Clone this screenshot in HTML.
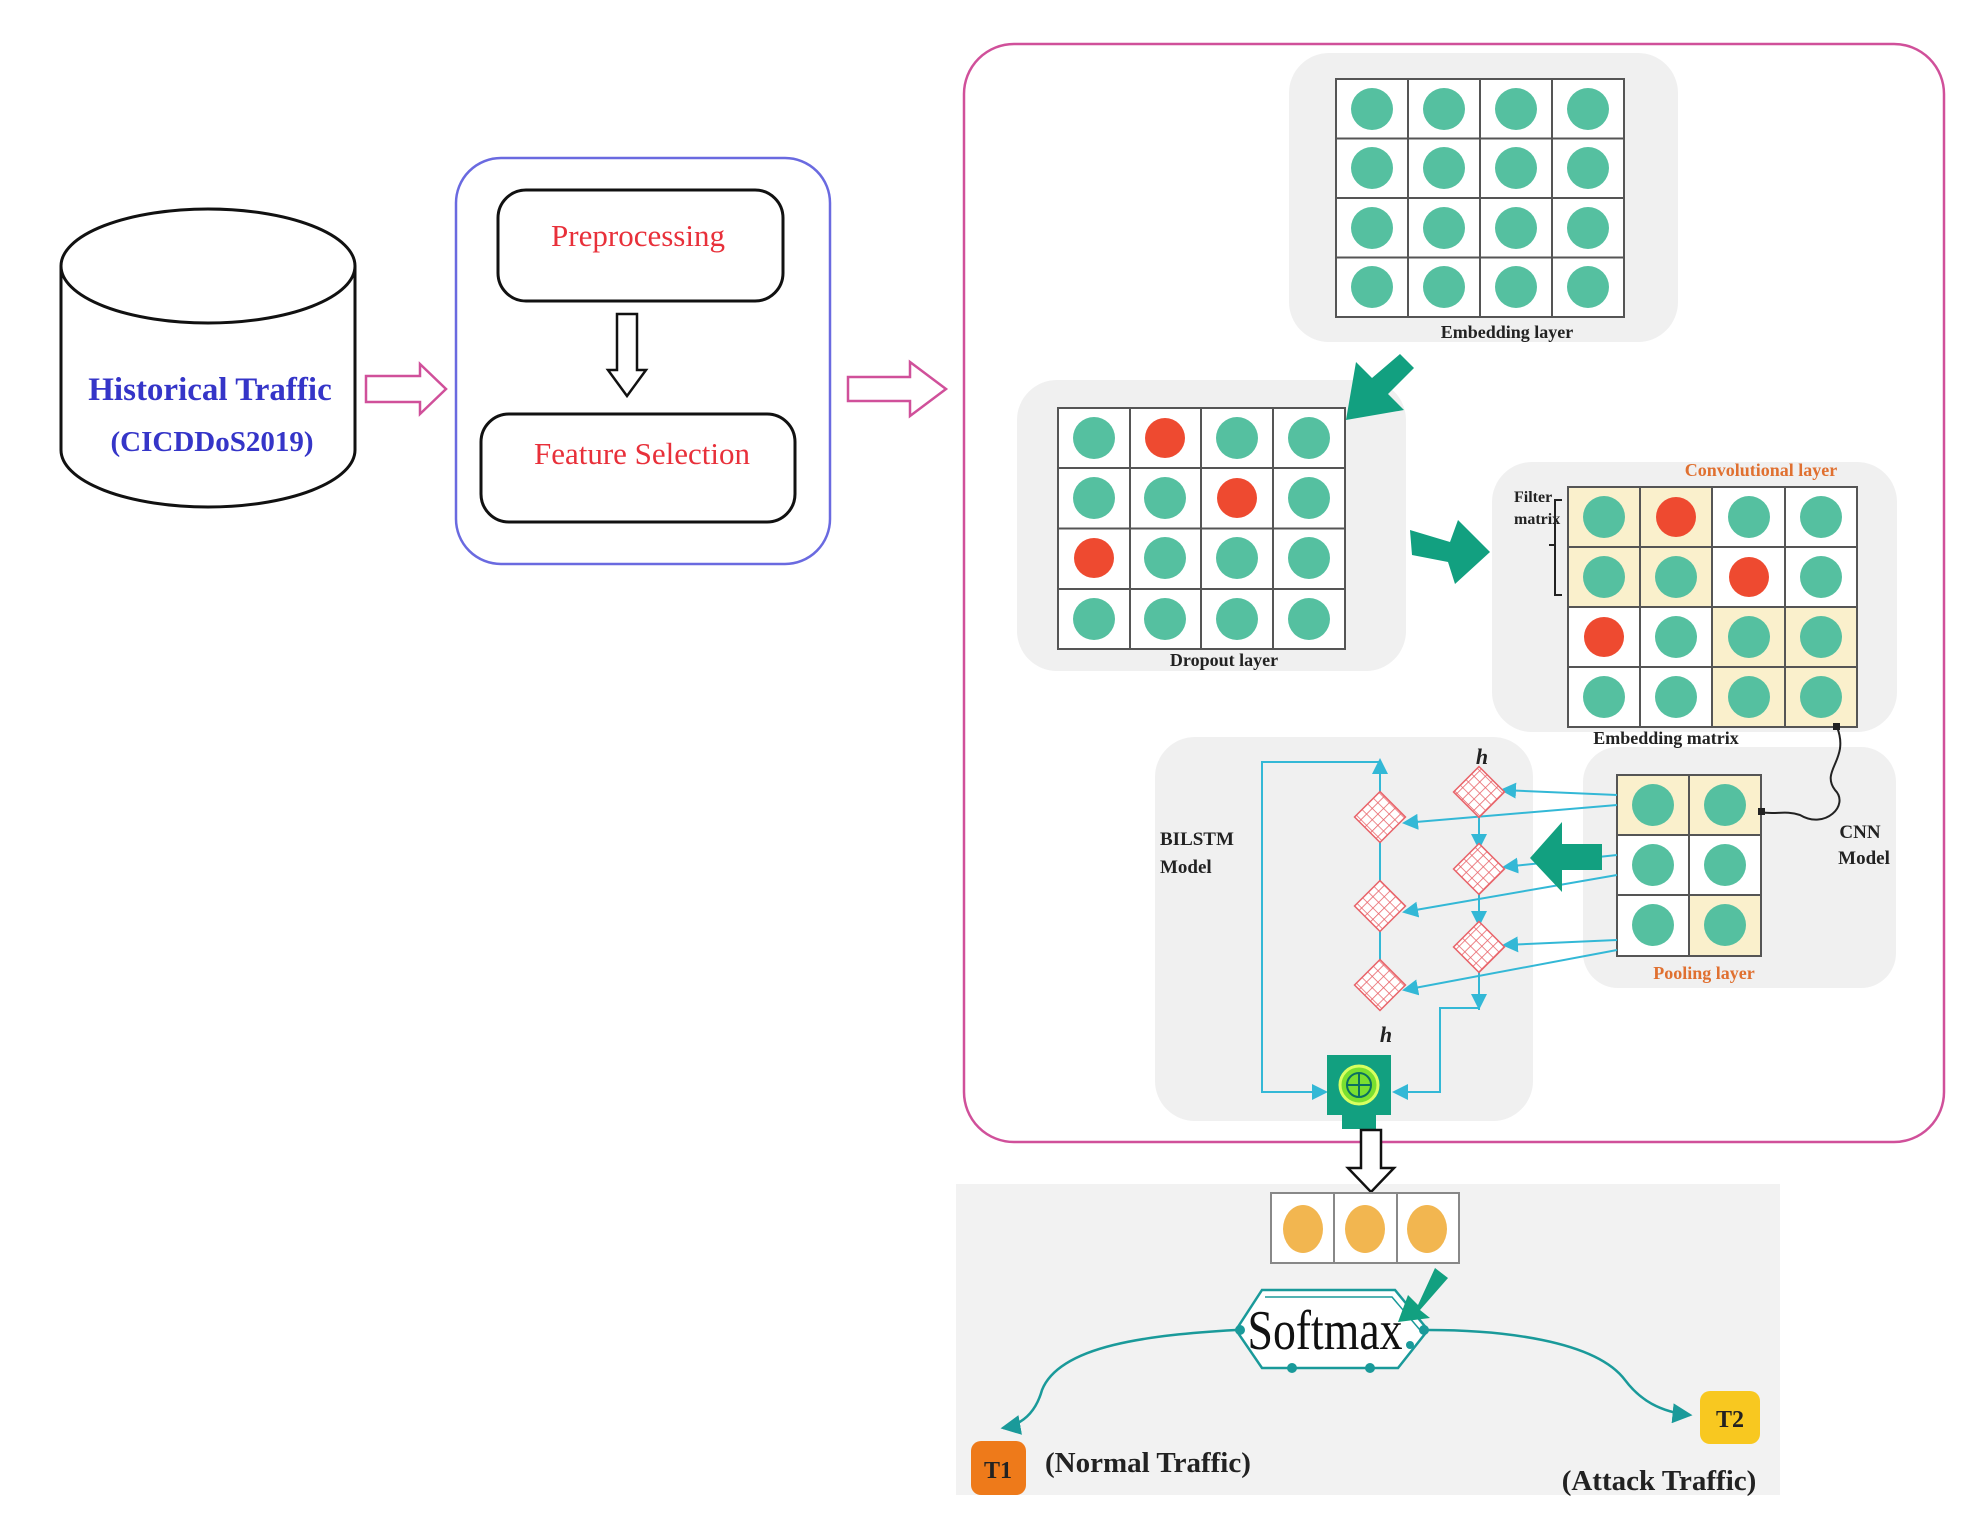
<!DOCTYPE html>
<html><head><meta charset="utf-8"><style>
html,body{margin:0;padding:0;background:#fff;}
svg{display:block;}
text{font-family:"Liberation Serif",serif;}
</style></head><body>
<svg width="1986" height="1534" viewBox="0 0 1986 1534" xmlns="http://www.w3.org/2000/svg">
<defs>
<pattern id="hat" width="8" height="8" patternUnits="userSpaceOnUse">
<rect width="8" height="8" fill="#fff"/>
<path d="M0 0H8M0 0V8" stroke="#e8646a" stroke-width="1.6"/>
</pattern>
<marker id="ca" markerWidth="8" markerHeight="8" refX="7" refY="4" orient="auto"><path d="M0,0 L8,4 L0,8 z" fill="#33b8d6"/></marker>
<marker id="ta" markerWidth="8" markerHeight="8" refX="7" refY="4" orient="auto"><path d="M0,0 L8,4 L0,8 z" fill="#1a9a9a"/></marker>
</defs>

<!-- cylinder -->
<path d="M61,266 V450 A147,57 0 0 0 355,450 V266" fill="#fff" stroke="#111" stroke-width="3"/>
<ellipse cx="208" cy="266" rx="147" ry="57" fill="#fff" stroke="#111" stroke-width="3"/>
<text x="210" y="400" text-anchor="middle" font-size="33" font-weight="bold" fill="#3535c8">Historical Traffic</text>
<text x="212" y="451" text-anchor="middle" font-size="29" font-weight="bold" fill="#3535c8">(CICDDoS2019)</text>

<!-- arrow1 -->
<path d="M366,376 H420 V364 L446,389 L420,414 V402 H366 Z" fill="#fff" stroke="#d0509a" stroke-width="2.5"/>

<!-- blue box -->
<rect x="456" y="158" width="374" height="406" rx="45" fill="#fff" stroke="#6a6ae0" stroke-width="2.5"/>
<rect x="498" y="190" width="285" height="111" rx="28" fill="#fff" stroke="#111" stroke-width="3"/>
<text x="638" y="246" text-anchor="middle" font-size="31" fill="#e8303a">Preprocessing</text>
<path d="M617,314 H637 V370 H646 L627,396 L608,370 H617 Z" fill="#fff" stroke="#111" stroke-width="2.5"/>
<rect x="481" y="414" width="314" height="108" rx="28" fill="#fff" stroke="#111" stroke-width="3"/>
<text x="642" y="464" text-anchor="middle" font-size="31" fill="#e8303a">Feature Selection</text>

<!-- arrow2 -->
<path d="M848,377 H910 V362 L946,389 L910,416 V401 H848 Z" fill="#fff" stroke="#d0509a" stroke-width="2.5"/>

<!-- pink box -->
<rect x="964" y="44" width="980" height="1098" rx="50" fill="#fff" stroke="#d0509a" stroke-width="2.5"/>

<!-- embedding layer panel -->
<rect x="1289" y="53" width="389" height="289" rx="40" fill="#f0f0f0"/>
<rect x="1336" y="79" width="288" height="238" fill="#fff" stroke="#555" stroke-width="2"/>
<path d="M1408,79V317M1480,79V317M1552,79V317M1336,138.5H1624M1336,198H1624M1336,257.5H1624" stroke="#555" stroke-width="2"/>
<g fill="#55c0a0">
<circle cx="1372" cy="109" r="21"/><circle cx="1444" cy="109" r="21"/><circle cx="1516" cy="109" r="21"/><circle cx="1588" cy="109" r="21"/>
<circle cx="1372" cy="168" r="21"/><circle cx="1444" cy="168" r="21"/><circle cx="1516" cy="168" r="21"/><circle cx="1588" cy="168" r="21"/>
<circle cx="1372" cy="228" r="21"/><circle cx="1444" cy="228" r="21"/><circle cx="1516" cy="228" r="21"/><circle cx="1588" cy="228" r="21"/>
<circle cx="1372" cy="287" r="21"/><circle cx="1444" cy="287" r="21"/><circle cx="1516" cy="287" r="21"/><circle cx="1588" cy="287" r="21"/>
</g>
<text x="1507" y="338" text-anchor="middle" font-size="18" font-weight="bold" fill="#222">Embedding layer</text>

<!-- dropout panel -->
<rect x="1017" y="380" width="389" height="291" rx="40" fill="#f0f0f0"/>
<rect x="1058" y="408" width="287" height="241" fill="#fff" stroke="#555" stroke-width="2"/>
<path d="M1130,408V649M1201,408V649M1273,408V649M1058,468H1345M1058,528.5H1345M1058,589H1345" stroke="#555" stroke-width="2"/>
<g fill="#55c0a0">
<circle cx="1094" cy="438" r="21"/><circle cx="1237" cy="438" r="21"/><circle cx="1309" cy="438" r="21"/>
<circle cx="1094" cy="498" r="21"/><circle cx="1165" cy="498" r="21"/><circle cx="1309" cy="498" r="21"/>
<circle cx="1165" cy="558" r="21"/><circle cx="1237" cy="558" r="21"/><circle cx="1309" cy="558" r="21"/>
<circle cx="1094" cy="619" r="21"/><circle cx="1165" cy="619" r="21"/><circle cx="1237" cy="619" r="21"/><circle cx="1309" cy="619" r="21"/>
</g>
<g fill="#ee4a30"><circle cx="1165" cy="438" r="20"/><circle cx="1237" cy="498" r="20"/><circle cx="1094" cy="558" r="20"/></g>
<text x="1224" y="666" text-anchor="middle" font-size="18" font-weight="bold" fill="#222">Dropout layer</text>

<!-- green arrow down-left (on top of dropout panel) -->
<path d="M1400,354 L1414,368 L1388,394 L1404,410 L1346,420 L1356,362 L1372,378 Z" fill="#12a080"/>

<!-- green arrow right -->
<path d="M1410,530 L1450,542 L1458,520 L1490,552 L1455,584 L1448,562 L1412,555 Z" fill="#12a080"/>

<!-- conv panel -->
<rect x="1492" y="462" width="405" height="270" rx="40" fill="#f0f0f0"/>
<rect x="1568" y="487" width="289" height="240" fill="#fff"/>
<g fill="#faf0cc">
<rect x="1568" y="487" width="144" height="120"/>
<rect x="1712" y="607" width="145" height="120"/>
</g>
<rect x="1568" y="487" width="289" height="240" fill="none" stroke="#555" stroke-width="2"/>
<path d="M1640,487V727M1712,487V727M1785,487V727M1568,547H1857M1568,607H1857M1568,667H1857" stroke="#555" stroke-width="2"/>
<g fill="#55c0a0">
<circle cx="1604" cy="517" r="21"/><circle cx="1749" cy="517" r="21"/><circle cx="1821" cy="517" r="21"/>
<circle cx="1604" cy="577" r="21"/><circle cx="1676" cy="577" r="21"/><circle cx="1821" cy="577" r="21"/>
<circle cx="1676" cy="637" r="21"/><circle cx="1749" cy="637" r="21"/><circle cx="1821" cy="637" r="21"/>
<circle cx="1604" cy="697" r="21"/><circle cx="1676" cy="697" r="21"/><circle cx="1749" cy="697" r="21"/><circle cx="1821" cy="697" r="21"/>
</g>
<g fill="#ee4a30"><circle cx="1676" cy="517" r="20"/><circle cx="1749" cy="577" r="20"/><circle cx="1604" cy="637" r="20"/></g>
<text x="1761" y="476" text-anchor="middle" font-size="18" font-weight="bold" fill="#e07030">Convolutional layer</text>
<text x="1514" y="502" font-size="16" font-weight="bold" fill="#222">Filter</text>
<text x="1514" y="524" font-size="16" font-weight="bold" fill="#222">matrix</text>
<path d="M1562,500 H1555 V595 H1562 M1555,545 H1549" fill="none" stroke="#222" stroke-width="2"/>

<!-- pooling panel -->
<rect x="1583" y="747" width="313" height="241" rx="35" fill="#f0f0f0"/>
<text x="1666" y="744" text-anchor="middle" font-size="18" font-weight="bold" fill="#222">Embedding matrix</text>
<rect x="1617" y="775" width="144" height="181" fill="#fff"/>
<g fill="#faf0cc"><rect x="1617" y="775" width="144" height="60"/><rect x="1689" y="895" width="72" height="61"/></g>
<rect x="1617" y="775" width="144" height="181" fill="none" stroke="#555" stroke-width="2"/>
<path d="M1689,775V956M1617,835H1761M1617,895H1761" stroke="#555" stroke-width="2"/>
<g fill="#55c0a0">
<circle cx="1653" cy="805" r="21"/><circle cx="1725" cy="805" r="21"/>
<circle cx="1653" cy="865" r="21"/><circle cx="1725" cy="865" r="21"/>
<circle cx="1653" cy="925" r="21"/><circle cx="1725" cy="925" r="21"/>
</g>
<text x="1704" y="979" text-anchor="middle" font-size="18" font-weight="bold" fill="#e07030">Pooling layer</text>
<path d="M1837,727 C1850,760 1820,770 1835,790 C1850,805 1825,830 1800,815 C1785,810 1775,815 1760,812" fill="none" stroke="#222" stroke-width="2"/>
<rect x="1833" y="723" width="7" height="7" fill="#222"/><rect x="1758" y="808" width="7" height="7" fill="#222"/>
<text x="1860" y="838" text-anchor="middle" font-size="19" font-weight="bold" fill="#222">CNN</text>
<text x="1864" y="864" text-anchor="middle" font-size="19" font-weight="bold" fill="#222">Model</text>

<!-- BiLSTM panel -->
<rect x="1155" y="737" width="378" height="384" rx="40" fill="#f0f0f0"/>
<text x="1160" y="845" font-size="19" font-weight="bold" fill="#222">BILSTM</text>
<text x="1160" y="873" font-size="19" font-weight="bold" fill="#222">Model</text>
<text x="1482" y="764" text-anchor="middle" font-size="22" font-style="italic" font-weight="bold" fill="#222">h</text>
<text x="1386" y="1042" text-anchor="middle" font-size="22" font-style="italic" font-weight="bold" fill="#222">h</text>
<g stroke="#33b8d6" stroke-width="2" fill="none">
<path d="M1380,1006 V760" marker-end="url(#ca)"/>
<path d="M1479,770 V1010"/>
<path d="M1479,830 V848" marker-end="url(#ca)"/>
<path d="M1479,908 V925" marker-end="url(#ca)"/>
<path d="M1479,970 V1008" marker-end="url(#ca)"/>
<path d="M1380,762 H1262 V1092 H1326" marker-end="url(#ca)"/>
<path d="M1479,1008 H1440 V1092 H1394" marker-end="url(#ca)"/>
<path d="M1617,795 L1502,790" marker-end="url(#ca)"/>
<path d="M1617,805 L1404,823" marker-end="url(#ca)"/>
<path d="M1617,855 L1504,867" marker-end="url(#ca)"/>
<path d="M1617,875 L1404,912" marker-end="url(#ca)"/>
<path d="M1617,940 L1504,945" marker-end="url(#ca)"/>
<path d="M1617,950 L1404,990" marker-end="url(#ca)"/>
</g>
<g fill="url(#hat)" stroke="#e8646a" stroke-width="1.5">
<rect x="1362" y="799" width="36" height="36" transform="rotate(45 1380 817)"/>
<rect x="1362" y="888" width="36" height="36" transform="rotate(45 1380 906)"/>
<rect x="1362" y="967" width="36" height="36" transform="rotate(45 1380 985)"/>
<rect x="1461" y="774" width="36" height="36" transform="rotate(45 1479 792)"/>
<rect x="1461" y="851" width="36" height="36" transform="rotate(45 1479 869)"/>
<rect x="1461" y="929" width="36" height="36" transform="rotate(45 1479 947)"/>
</g>
<path d="M1602,844 L1562,844 L1562,822 L1530,858 L1562,892 L1562,870 L1602,870 Z" fill="#12a080"/>
<rect x="1327" y="1055" width="64" height="60" fill="#12a080"/>
<rect x="1342" y="1115" width="34" height="14" fill="#12a080"/>
<circle cx="1359" cy="1085" r="19" fill="#7ae030" stroke="#d8ff60" stroke-width="3"/>
<circle cx="1359" cy="1085" r="12" fill="none" stroke="#0a7060" stroke-width="2"/>
<path d="M1359,1073V1097M1347,1085H1371" stroke="#0a7060" stroke-width="2"/>

<rect x="956" y="1184" width="824" height="311" fill="#f2f2f2"/>
<path d="M1361,1130 H1381 V1168 H1394 L1371,1192 L1348,1168 H1361 Z" fill="#fff" stroke="#111" stroke-width="2.5"/>

<rect x="1271" y="1193" width="188" height="70" fill="#fff" stroke="#888" stroke-width="2"/>
<path d="M1334,1193V1263M1397,1193V1263" stroke="#888" stroke-width="2"/>
<g fill="#f2b650"><ellipse cx="1303" cy="1229" rx="20" ry="24"/><ellipse cx="1365" cy="1229" rx="20" ry="24"/><ellipse cx="1427" cy="1229" rx="20" ry="24"/></g>

<path d="M1262,1290 H1395 L1428,1330 L1398,1368 H1262 L1236,1330 Z" fill="#fff" stroke="#1a9a9a" stroke-width="2.5"/>
<path d="M1265,1297 H1392 L1420,1330" fill="none" stroke="#1a9a9a" stroke-width="1.5"/>
<g fill="#1a9a9a"><circle cx="1240" cy="1330" r="5"/><circle cx="1424" cy="1330" r="5"/><circle cx="1292" cy="1368" r="5"/><circle cx="1370" cy="1368" r="5"/><circle cx="1410" cy="1345" r="4"/></g>
<text x="1325" y="1349" text-anchor="middle" font-size="56" fill="#111" textLength="155" lengthAdjust="spacingAndGlyphs">Softmax</text>
<path d="M1435,1268 L1418,1305 L1408,1295 L1398,1322 L1430,1318 L1420,1310 L1448,1278 Z" fill="#12a080"/>
<path d="M1236,1330 C1150,1335 1060,1345 1042,1390 C1035,1415 1020,1425 1003,1428" fill="none" stroke="#1a9a9a" stroke-width="2.5" marker-end="url(#ta)"/>
<path d="M1428,1330 C1500,1330 1595,1340 1625,1380 C1640,1400 1660,1412 1690,1415" fill="none" stroke="#1a9a9a" stroke-width="2.5" marker-end="url(#ta)"/>
<rect x="971" y="1441" width="55" height="54" rx="10" fill="#ee7a1a"/>
<text x="998" y="1478" text-anchor="middle" font-size="24" font-weight="bold" fill="#222">T1</text>
<text x="1045" y="1472" font-size="29" font-weight="bold" fill="#222">(Normal Traffic)</text>
<rect x="1700" y="1391" width="60" height="53" rx="10" fill="#f8c820"/>
<text x="1730" y="1427" text-anchor="middle" font-size="24" font-weight="bold" fill="#222">T2</text>
<text x="1659" y="1490" text-anchor="middle" font-size="29" font-weight="bold" fill="#222">(Attack Traffic)</text>
</svg>
</body></html>
